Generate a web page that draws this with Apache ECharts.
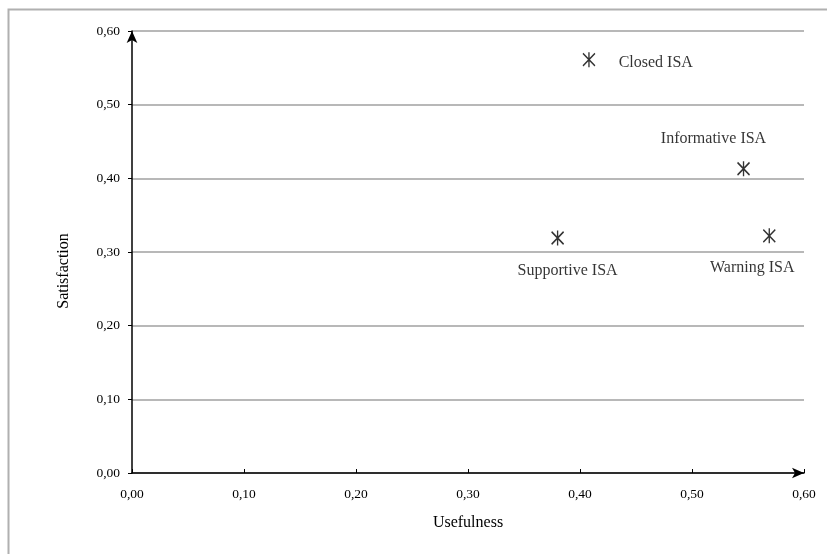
<!DOCTYPE html>
<html><head><meta charset="utf-8">
<script src="https://cdn.jsdelivr.net/npm/echarts@6/dist/echarts.min.js"></script>
<style>html,body{margin:0;padding:0;background:#fff}#c{width:827px;height:554px}</style>
</head><body><div id="c"></div>
<script>
const names = ['Closed ISA', 'Informative ISA', 'Supportive ISA', 'Warning ISA'];
const usefulness = [0.408, 0.546, 0.380, 0.569];
const satisfaction = [0.561, 0.413, 0.319, 0.322];
const axisTicks = [0, 0.1, 0.2, 0.3, 0.4, 0.5, 0.6];

const labelCfg = {
  'Closed ISA': {position: 'right', distance: 23, offset: [0, 3]},
  'Informative ISA': {position: 'top', distance: 14, offset: [-30, 0]},
  'Supportive ISA': {position: 'bottom', distance: 16, offset: [10, 0]},
  'Warning ISA': {position: 'bottom', distance: 16, offset: [-17, 0]}
};
const font = '"Liberation Serif", "DejaVu Serif", serif';
const fmt = v => v.toFixed(2).replace('.', ',');

const data = names.map((n, i) => ({
  name: n,
  value: [usefulness[i], satisfaction[i]],
  label: Object.assign({show: true, formatter: n, color: '#000', fontFamily: font, fontSize: 16}, labelCfg[n])
}));

const chart = echarts.init(document.getElementById('c'));
chart.setOption({
  backgroundColor: '#fff',
  animation: false,
  graphic: [{type: 'rect', shape: {x: 8.5, y: 9.5, width: 900, height: 700},
    style: {fill: 'none', stroke: '#b0b0b0', lineWidth: 2}, z: -1}],
  grid: {left: 132, right: 23, top: 31, bottom: 81, containLabel: false},
  xAxis: {
    type: 'value', min: 0, max: 0.6, interval: 0.1,
    name: 'Usefulness', nameLocation: 'middle', nameGap: 42,
    nameTextStyle: {fontFamily: font, fontSize: 16, color: '#000'},
    axisLine: {show: true, lineStyle: {color: '#000', width: 1.5}, symbol: ['none', 'arrow'], symbolSize: [8, 12], symbolOffset: [0, 0]},
    axisTick: {show: true, inside: true, length: 4, lineStyle: {color: '#000'}},
    axisLabel: {fontFamily: font, fontSize: 13.5, color: '#000', margin: 14, formatter: fmt},
    splitLine: {show: false}
  },
  yAxis: {
    type: 'value', min: 0, max: 0.6, interval: 0.1,
    name: 'Satisfaction', nameLocation: 'middle', nameGap: 60,
    nameTextStyle: {fontFamily: font, fontSize: 16, color: '#000', padding: [0, 38, 0, 0]},
    axisLine: {show: true, lineStyle: {color: '#000', width: 1.5}, symbol: ['none', 'arrow'], symbolSize: [8, 12], symbolOffset: [0, 0]},
    axisTick: {show: true, length: 4, lineStyle: {color: '#000'}},
    axisLabel: {fontFamily: font, fontSize: 13.5, color: '#000', margin: 12, formatter: fmt},
    splitLine: {show: true, lineStyle: {color: '#a0a0a0', width: 1.5}}
  },
  series: [{
    type: 'scatter',
    symbol: 'path://M-0.8,-1L0.8,1M0.8,-1L-0.8,1M0,-1.2L0,1.2',
    symbolSize: [12, 15],
    itemStyle: {color: 'rgba(0,0,0,0)', borderColor: '#000', borderWidth: 1.5},
    data: data
  }]
});
</script></body></html>
